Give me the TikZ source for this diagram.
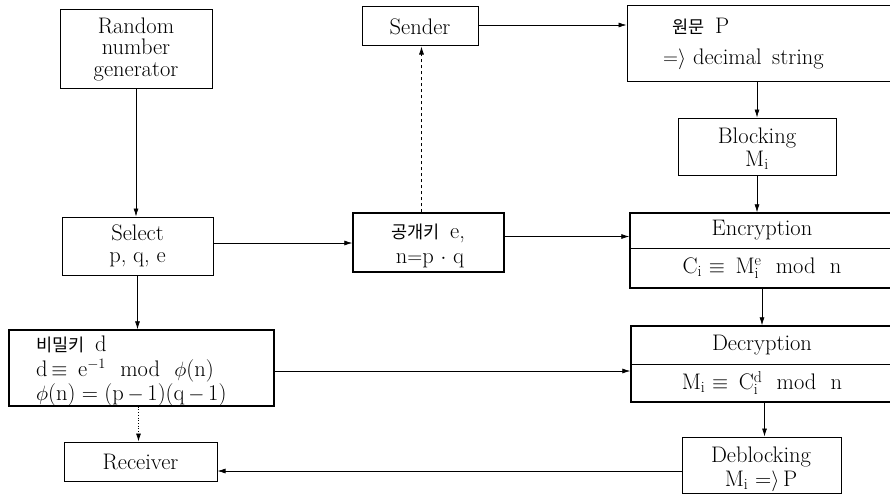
\documentclass[tikz,border=0pt]{standalone}
\usepackage{fontspec}
\newfontfamily\kr[Scale=0.78]{Noto Sans CJK KR}
\usetikzlibrary{arrows.meta}
\begin{document}
\begin{tikzpicture}[x=1pt,y=-1pt,
  box/.style={draw,line width=1pt,inner sep=0pt,align=center,
    font=\fontsize{22.5}{21.5}\selectfont},
  thick box/.style={box,line width=1.4pt},
  txt/.style={inner sep=0pt,font=\fontsize{22.5}{22}\selectfont},
  conn/.style={line width=0.7pt,-{Latex[length=8pt,width=5pt]}},
]
\useasboundingbox (0,0) rectangle (890,495);
\clip (0,0) rectangle (890,495);
% boxes
\node[box,minimum width=152pt,minimum height=78pt] (rng) at (136,49) {Random\\number\\generator};
\node[box,minimum width=151pt,minimum height=58pt] (sel) at (137.5,246) {Select\\p, q, e};
\node[thick box,minimum width=265pt,minimum height=76pt] (sec) at (141.5,368) {};
\node[box,minimum width=153pt,minimum height=39pt] (rcv) at (140.5,461.5) {Receiver};
\node[thick box,minimum width=151pt,minimum height=59pt] (pub) at (428.5,242.5) {};
\node[box,minimum width=116pt,minimum height=39pt] (snd) at (420,26.5) {Sender};
\node[box,minimum width=267pt,minimum height=75pt] (pln) at (760.5,43.5) {};
\node[box,minimum width=158pt,minimum height=57pt] (blk) at (757,146.5) {};
\node[thick box,minimum width=264pt,minimum height=75pt] (enc) at (762,250.5) {};
\node[thick box,minimum width=263pt,minimum height=76pt] (dec) at (762.5,364) {};
\node[box,minimum width=159pt,minimum height=56pt] (dbl) at (761.5,465) {};
% dividers
\coordinate (encd) at (630,248);
\coordinate (decd) at (631,364);
\draw[line width=1pt] (encd) -- (encd -| enc.east);
\draw[line width=1pt] (decd) -- (decd -| dec.east);
% texts
\node[txt,anchor=base] (blkA) at (757,143) {Blocking};
\node[txt,anchor=base] (blkB) at (757,166) {M$_\mathrm{i}$};
\node[txt,anchor=base] (dblA) at (761,462) {Deblocking};
\node[txt,anchor=base] (dblB) at (761,486) {M$_\mathrm{i}$ =$\rangle$\,P};
\node[txt,anchor=base west] (secA) at (36,351) {{\kr 비밀키}\, d};
\node[txt,anchor=base west] (secB) at (36,376) {d\,$\equiv$\, e$^{-1}$\,\, mod\,\, $\phi$(n)};
\node[txt,anchor=base west] (secC) at (36,400) {$\phi$(n)\;=\;(p\,$-$\,1)(q\,$-$\,1)};
\node[txt,anchor=base] (pubA) at (428,238) {{\kr 공개키}\, e,};
\node[txt,anchor=base] (pubB) at (430,263) {n$=$p $\cdot$ q};
\node[txt,anchor=base west] (plnA) at (672,34) {{\kr 원문}\, P};
\node[txt,anchor=base west] (plnB) at (663,64) {$=\rangle$ decimal\, string};
\node[txt] (encA) at (762,230.5) {Encryption};
\node[txt] (encB) at (762,268) {C$_\mathrm{i}$ $\equiv$\, M$_\mathrm{i}^\mathrm{e}$\,\, mod\,\, n};
\node[txt] (decA) at (762,345) {Decryption};
\node[txt] (decB) at (762,383) {M$_\mathrm{i}$ $\equiv$\, C$_\mathrm{i}^\mathrm{d}$\,\, mod\,\, n};
% connectors
\draw[conn] (rng.south) -- (rng.south |- sel.north);
\draw[conn] ([yshift=3pt]sel.east) -- ([yshift=3pt]sel.east -| pub.west);
\draw[conn,dashed] ([xshift=-7pt]pub.north) -- ([xshift=-7pt]pub.north |- snd.south);
\draw[conn] ([yshift=1.5pt]snd.east) -- ([yshift=1.5pt]snd.east -| pln.west);
\draw[conn] (blk.north |- pln.south) -- (blk.north);
\draw[conn] (blk.south) -- (blk.south |- enc.north);
\draw[conn] ([yshift=6pt]pub.east) -- ([yshift=6pt]pub.east -| enc.west);
\draw[conn] (enc.south) -- (enc.south |- dec.north);
\draw[conn] ([yshift=-3pt]sec.east) -- ([yshift=-3pt]sec.east -| dec.west);
\draw[conn] ([xshift=2pt]dec.south) -- ([xshift=2pt]dec.south |- dbl.north);
\draw[conn] ([yshift=-6pt]dbl.west) -- ([yshift=-6pt]dbl.west -| rcv.east);
\draw[conn] (sel.south) -- (sel.south |- sec.north);
\draw[conn,dotted] ([xshift=-3pt]sec.south) -- ([xshift=-3pt]sec.south |- rcv.north);
\end{tikzpicture}
\end{document}
